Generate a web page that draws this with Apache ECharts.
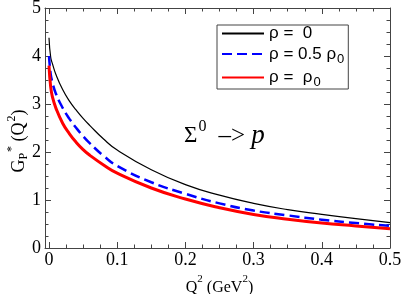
<!DOCTYPE html>
<html>
<head>
<meta charset="utf-8">
<script src="https://cdn.jsdelivr.net/npm/echarts@6/dist/echarts.min.js"></script>
<style>
html,body{margin:0;padding:0;background:#fff;}
#chart{width:402px;height:294px;}
</style>
</head>
<body>
<div id="chart"></div>
<script>
const q2 = [0, 0.0025, 0.005, 0.01, 0.02, 0.03, 0.04, 0.05, 0.06, 0.08, 0.1, 0.15, 0.2, 0.25, 0.3, 0.35, 0.4, 0.45, 0.5];
const rhoZero = [4.38, 3.97, 3.84, 3.62, 3.30, 3.06, 2.87, 2.70, 2.55, 2.27, 2.04, 1.63, 1.32, 1.10, 0.93, 0.80, 0.70, 0.61, 0.53];
const rhoHalf = [4.00, 3.62, 3.45, 3.22, 2.92, 2.69, 2.50, 2.33, 2.18, 1.92, 1.71, 1.37, 1.13, 0.93, 0.78, 0.68, 0.59, 0.52, 0.46];
const rhoFull = [3.80, 3.35, 3.15, 2.92, 2.60, 2.38, 2.20, 2.05, 1.93, 1.73, 1.56, 1.25, 1.02, 0.84, 0.70, 0.60, 0.52, 0.46, 0.40];
const seriesNames = ['rho0', 'rhoHalf', 'rhoFull'];
const legendLabels = {
  rho0: '{a|ρ =  0}',
  rhoHalf: '{a|ρ = 0.5 ρ}{s|0}',
  rhoFull: '{a|ρ =  ρ}{s|0}'
};
const xTicks = {min: 0, max: 0.5, interval: 0.1};
const yTicks = {min: 0, max: 5, interval: 1};

const pairs = arr => q2.map((x, i) => [x, arr[i]]);
const axisColor = '#444';
const serif = 'Liberation Serif';

const chart = echarts.init(document.getElementById('chart'), null, {renderer: 'canvas'});
const tickCommon = {show: true, inside: true, length: 6, lineStyle: {color: axisColor, width: 1}};
const minorCommon = {show: true, splitNumber: 4, length: 3.5, lineStyle: {color: axisColor, width: 1}};

chart.setOption({
  animation: false,
  backgroundColor: '#fff',
  grid: [
    {left: 45, right: 12, top: 8, bottom: 46, containLabel: false, outerBoundsMode: 'none'},
    {left: 49, right: 12, top: 8, bottom: 46, containLabel: false, outerBoundsMode: 'none'}
  ],
  xAxis: [
    {gridIndex: 0, type: 'value', min: 0, max: 1, position: 'bottom',
     axisLine: {show: true, onZero: false, lineStyle: {color: axisColor, width: 1}},
     axisTick: {show: false}, axisLabel: {show: false}, splitLine: {show: false}},
    {gridIndex: 0, type: 'value', min: 0, max: 1, position: 'top',
     axisLine: {show: true, onZero: false, lineStyle: {color: axisColor, width: 1}},
     axisTick: {show: false}, axisLabel: {show: false}, splitLine: {show: false}},
    {gridIndex: 1, type: 'value', min: xTicks.min, max: xTicks.max, interval: xTicks.interval, position: 'bottom',
     axisLine: {show: false, onZero: false},
     axisTick: tickCommon, minorTick: minorCommon,
     axisLabel: {show: true, margin: 3, color: '#000', fontFamily: serif, fontSize: 18},
     splitLine: {show: false},
     name: '{n|Q}{p|2}{n| (GeV}{p|2}{n|)}',
     nameLocation: 'middle', nameGap: 18,
     nameTextStyle: {color: '#000', fontFamily: serif, fontSize: 16,
       rich: {
         n: {fontFamily: serif, fontSize: 16, color: '#000'},
         p: {fontFamily: serif, fontSize: 11, color: '#000', lineHeight: 11, padding: [0, 0, 16, 0]}
       }}},
    {gridIndex: 1, type: 'value', min: xTicks.min, max: xTicks.max, interval: xTicks.interval, position: 'top',
     axisLine: {show: false, onZero: false},
     axisTick: tickCommon, minorTick: minorCommon,
     axisLabel: {show: false}, splitLine: {show: false}}
  ],
  yAxis: [
    {gridIndex: 0, type: 'value', min: yTicks.min, max: yTicks.max, interval: yTicks.interval, position: 'left',
     axisLine: {show: true, onZero: false, lineStyle: {color: axisColor, width: 1}},
     axisTick: tickCommon, minorTick: minorCommon,
     axisLabel: {show: true, margin: 4, color: '#000', fontFamily: serif, fontSize: 18},
     splitLine: {show: false}},
    {gridIndex: 0, type: 'value', min: yTicks.min, max: yTicks.max, interval: yTicks.interval, position: 'right',
     axisLine: {show: true, onZero: false, lineStyle: {color: axisColor, width: 1}},
     axisTick: tickCommon, minorTick: minorCommon,
     axisLabel: {show: false}, splitLine: {show: false}},
    {gridIndex: 1, type: 'value', min: yTicks.min, max: yTicks.max, show: false}
  ],
  legend: {
    orient: 'vertical', left: 217, top: 25,
    data: seriesNames,
    itemWidth: 42, itemHeight: 14, itemGap: 0.5,
    padding: [0, 4, 0, 4],
    borderColor: '#444', borderWidth: 1, backgroundColor: '#fff',
    itemStyle: {opacity: 0},
    formatter: name => legendLabels[name],
    textStyle: {
      fontFamily: 'Liberation Sans', fontSize: 17, color: '#000',
      rich: {
        a: {fontFamily: 'Liberation Sans', fontSize: 17, color: '#000', lineHeight: 23},
        s: {fontFamily: 'Liberation Sans', fontSize: 13, color: '#000', lineHeight: 13, padding: [10, 0, 0, 1]}
      }
    }
  },
  graphic: [
    {type: 'text', x: 19, y: 141, rotation: Math.PI / 2,
     style: {
       text: '{g|G}{b|P}{t|*}{g| (Q}{t|2}{g|)}',
       align: 'center', verticalAlign: 'middle', fill: '#000',
       rich: {
         g: {fontFamily: serif, fontSize: 18, fill: '#000', lineHeight: 18},
         b: {fontFamily: serif, fontSize: 12, fill: '#000', lineHeight: 12, padding: [10, 0, 0, 0]},
         t: {fontFamily: serif, fontSize: 12, fill: '#000', lineHeight: 12, padding: [0, 0, 15, 1]}
       }
     }},
    {type: 'text', x: 184, y: 136,
     style: {
       text: '{m|Σ}{u|0}{m| }{d| –> }{i|p}',
       align: 'left', verticalAlign: 'middle', fill: '#000',
       rich: {
         m: {fontFamily: serif, fontSize: 23, fill: '#000', lineHeight: 23},
         d: {fontFamily: serif, fontSize: 25, fill: '#000', lineHeight: 23},
         u: {fontFamily: serif, fontSize: 16, fill: '#000', lineHeight: 16, padding: [0, 0, 18, 1]},
         i: {fontFamily: serif, fontSize: 27, fontStyle: 'italic', fill: '#000', lineHeight: 23}
       }
     }}
  ],
  series: [
    {name: 'rho0', type: 'line', xAxisIndex: 2, yAxisIndex: 2, data: pairs(rhoZero),
     showSymbol: false, symbol: 'none', smooth: 0.5,
     lineStyle: {color: '#000', width: 1.2}, itemStyle: {color: '#000'}},
    {name: 'rhoHalf', type: 'line', xAxisIndex: 2, yAxisIndex: 2, data: pairs(rhoHalf),
     showSymbol: false, symbol: 'none', smooth: 0.5,
     lineStyle: {color: '#0000ff', width: 2.5, type: [10, 5]}, itemStyle: {color: '#0000ff'}},
    {name: 'rhoFull', type: 'line', xAxisIndex: 2, yAxisIndex: 2, data: pairs(rhoFull),
     showSymbol: false, symbol: 'none', smooth: 0.5,
     lineStyle: {color: '#ff0000', width: 3}, itemStyle: {color: '#ff0000'}}
  ]
});
</script>
</body>
</html>
